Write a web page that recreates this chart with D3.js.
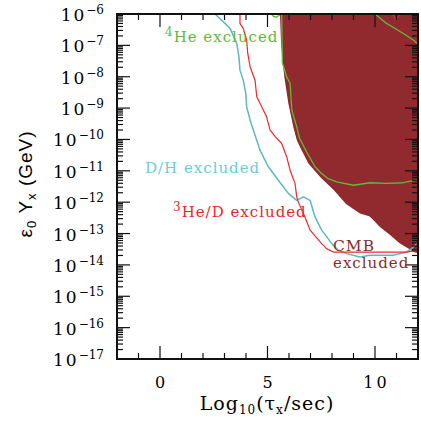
<!DOCTYPE html>
<html>
<head>
<meta charset="utf-8">
<script src="https://cdn.jsdelivr.net/npm/d3@7"></script>
<style>
  body { margin: 0; background: #fff; }
  svg { display: block; }
  .lbl { font-family: "DejaVu Serif", serif; }
</style>
</head>
<body>
<div id="chart"></div>
<script>
// axis ranges: log10(tau/sec) and Y (GeV)
var tauDomain = [-2, 12];
var yDomain = [1e-17, 1e-6];
var tauMajor = [0, 5, 10];
var yExponents = d3.range(-17, -5);

// curves as [log10 tau, log10 (eps0 Yx)]
var cmbRegion = [
  [5.58, -6.00], [5.63, -6.94], [5.78, -8.00], [5.97, -8.85], [6.20, -9.60],
  [6.36, -10.02], [6.51, -10.24], [6.90, -10.77], [7.48, -11.22], [8.09, -11.62],
  [8.65, -12.06], [9.30, -12.36], [9.73, -12.45], [9.85, -12.52], [10.23, -12.79],
  [10.70, -13.05], [11.16, -13.32], [11.55, -13.48], [11.78, -13.59], [12.00, -13.63],
  [12.00, -6.00]
];

var heFour = [
  [5.66, -6.00], [5.69, -7.56], [5.89, -8.00], [6.05, -8.21], [6.13, -9.06],
  [6.36, -9.60], [6.49, -9.96], [6.82, -10.40], [7.21, -10.87], [7.49, -11.07],
  [7.79, -11.24], [8.22, -11.35], [8.99, -11.46], [9.77, -11.38], [10.54, -11.40],
  [11.32, -11.38], [12.00, -11.28]
];
var heFourCorner = [
  [10.00, -6.00], [10.54, -6.30], [11.32, -6.62], [11.78, -6.83], [12.00, -6.96]
];
var heFourDip = [[5.19, -6.00], [5.28, -6.08], [5.42, -6.10], [5.56, -6.03], [5.60, -6.00]];

var dOverH = [
  [2.56, -6.00], [3.02, -6.30], [3.26, -6.46], [3.57, -6.94], [3.67, -7.36],
  [3.72, -7.79], [3.87, -8.11], [3.99, -8.53], [4.03, -8.96], [4.19, -9.38],
  [4.34, -9.70], [4.65, -10.34], [5.04, -10.87], [5.50, -11.30], [5.97, -11.72],
  [6.36, -11.94], [6.67, -11.83], [6.98, -11.94], [7.21, -12.47], [7.52, -12.89],
  [7.99, -13.32], [8.29, -13.53], [8.68, -13.64], [9.30, -13.75], [9.77, -13.69],
  [10.85, -13.69], [11.47, -13.59], [11.78, -13.43], [12.00, -13.27]
];

var he3OverD = [
  [3.72, -6.00], [3.72, -6.30], [3.87, -6.46], [4.03, -6.83], [4.08, -7.25],
  [4.19, -7.68], [4.42, -8.11], [4.50, -8.64], [4.73, -8.96], [4.96, -9.28],
  [5.12, -9.70], [5.35, -9.90], [5.66, -10.13], [5.89, -10.55], [6.05, -10.98],
  [6.28, -11.40], [6.36, -11.83], [6.43, -11.99], [6.74, -12.47], [6.98, -12.89],
  [7.52, -13.32], [7.75, -13.48], [8.06, -13.59], [8.99, -13.59], [10.54, -13.59],
  [11.47, -13.59], [12.00, -13.53]
];
var he3Tip = [[10.79, -6.00], [10.98, -6.19], [11.16, -6.00]];

var width = 421, height = 423;
var margin = {top: 14, right: 3, bottom: 64, left: 117};
var chartW = width - margin.left - margin.right;
var chartH = height - margin.top - margin.bottom;

var xScale = d3.scaleLinear().domain(tauDomain).range([0, chartW]);
var yScale = d3.scaleLog().domain(yDomain).range([chartH, 0]);

var svg = d3.select("#chart").append("svg")
  .attr("width", width)
  .attr("height", height);

svg.append("defs").append("clipPath").attr("id", "plotclip")
  .append("rect").attr("width", chartW).attr("height", chartH);

var g = svg.append("g")
  .attr("transform", "translate(" + margin.left + "," + margin.top + ")");

var plot = g.append("g").attr("clip-path", "url(#plotclip)");

var line = d3.line()
  .x(function(d) { return xScale(d[0]); })
  .y(function(d) { return yScale(Math.pow(10, d[1])); });

// CMB excluded region
plot.append("path")
  .attr("d", line(cmbRegion) + "Z")
  .attr("fill", "#912a2e");

function curve(data, color, w) {
  plot.append("path")
    .attr("d", line(data))
    .attr("fill", "none")
    .attr("stroke", color)
    .attr("stroke-width", w || 1.3)
    .attr("stroke-linejoin", "round");
}

curve(dOverH, "#5fb7c0", 1.5);
curve(he3OverD, "#ec2a2a", 1.2);
curve(he3Tip, "#ec2a2a", 1.2);
curve(heFour, "#62b93a", 1.3);
curve(heFourCorner, "#62b93a", 1.3);
curve(heFourDip, "#62b93a", 1.3);

// ticks (all pointing inward)
var tauMinor = d3.range(-2, 13).filter(function(v) { return tauMajor.indexOf(v) < 0; });
var yMinor = [];
yExponents.slice(0, -1).forEach(function(e) {
  d3.range(2, 10).forEach(function(k) { yMinor.push(k * Math.pow(10, e)); });
});
var yMajor = yExponents.map(function(e) { return Math.pow(10, e); });

var axes = g.append("g").attr("stroke", "#111").attr("stroke-width", 1.2);

function xTicks(vals, len) {
  axes.selectAll(null).data(vals).enter().append("line")
    .attr("x1", function(d) { return xScale(d); }).attr("x2", function(d) { return xScale(d); })
    .attr("y1", chartH).attr("y2", chartH - len);
  axes.selectAll(null).data(vals).enter().append("line")
    .attr("x1", function(d) { return xScale(d); }).attr("x2", function(d) { return xScale(d); })
    .attr("y1", 0).attr("y2", len);
}
function yTicks(vals, len) {
  axes.selectAll(null).data(vals).enter().append("line")
    .attr("y1", function(d) { return yScale(d); }).attr("y2", function(d) { return yScale(d); })
    .attr("x1", 0).attr("x2", len);
  axes.selectAll(null).data(vals).enter().append("line")
    .attr("y1", function(d) { return yScale(d); }).attr("y2", function(d) { return yScale(d); })
    .attr("x1", chartW).attr("x2", chartW - len);
}
xTicks(tauMajor, 13);
xTicks(tauMinor, 6);
yTicks(yMajor, 13);
yTicks(yMinor, 6);

g.append("rect")
  .attr("width", chartW).attr("height", chartH)
  .attr("fill", "none").attr("stroke", "#111").attr("stroke-width", 2);

// x tick labels
g.selectAll(".xl").data(tauMajor).enter().append("text")
  .attr("class", "lbl")
  .attr("x", function(d) { return xScale(d) + 1.5; })
  .attr("y", chartH + 29)
  .attr("text-anchor", "middle")
  .style("font-size", "16px")
  .style("letter-spacing", "3px")
  .text(function(d) { return d; });

// y tick labels 10^n
var yl = g.selectAll(".yl").data(yExponents).enter().append("text")
  .attr("class", "lbl")
  .attr("x", -13)
  .attr("y", function(e) { return yScale(Math.pow(10, e)) + 7; })
  .attr("text-anchor", "end")
  .style("font-size", "17px");
yl.append("tspan").style("letter-spacing", "2px").text("10");
yl.append("tspan").attr("dy", -7).style("font-size", "12px")
  .text(function(e) { return "\u2212" + Math.abs(e); });

// axis titles
var xt = svg.append("text").attr("class", "lbl")
  .attr("x", 267).attr("y", 410)
  .attr("text-anchor", "middle")
  .style("font-size", "19px").style("letter-spacing", "1px");
xt.append("tspan").text("Log");
xt.append("tspan").attr("dy", 4).style("font-size", "12px").text("10");
xt.append("tspan").attr("dy", -4).text("(\u03c4");
xt.append("tspan").attr("dy", 4).style("font-size", "12px").text("x");
xt.append("tspan").attr("dy", -4).text("/sec)");

var yt = svg.append("text")
  .attr("transform", "translate(32,184) rotate(-90)")
  .attr("text-anchor", "middle")
  .style("font-family", "'Liberation Sans', sans-serif")
  .style("font-size", "19px").style("letter-spacing", "1px");
yt.append("tspan").text("\u03b5");
yt.append("tspan").attr("dy", 4).style("font-size", "13px").text("0");
yt.append("tspan").attr("dy", -4).text(" Y");
yt.append("tspan").attr("dy", 4).style("font-size", "13px").text("x");
yt.append("tspan").attr("dy", -4).text(" (GeV)");

// region labels
function label(x, y, sup, txt, color, size) {
  var t = svg.append("text").attr("class", "lbl")
    .attr("x", x).attr("y", y)
    .attr("fill", color)
    .style("font-size", (size || 15) + "px")
    .style("letter-spacing", "1px");
  if (sup) t.append("tspan").attr("dy", -6).style("font-size", "12px").text(sup);
  t.append("tspan").attr("dy", sup ? 6 : 0).text(txt);
}
label(165, 41.5, "4", "He excluced", "#62b93a");
label(145, 173, null, "D/H excluded", "#6ccdd4");
label(173, 217, "3", "He/D excluded", "#e8262a");
label(333, 250.5, null, "CMB", "#8b2a2e", 15.5);
label(333, 268, null, "excluded", "#8b2a2e", 15);
</script>
</body>
</html>
